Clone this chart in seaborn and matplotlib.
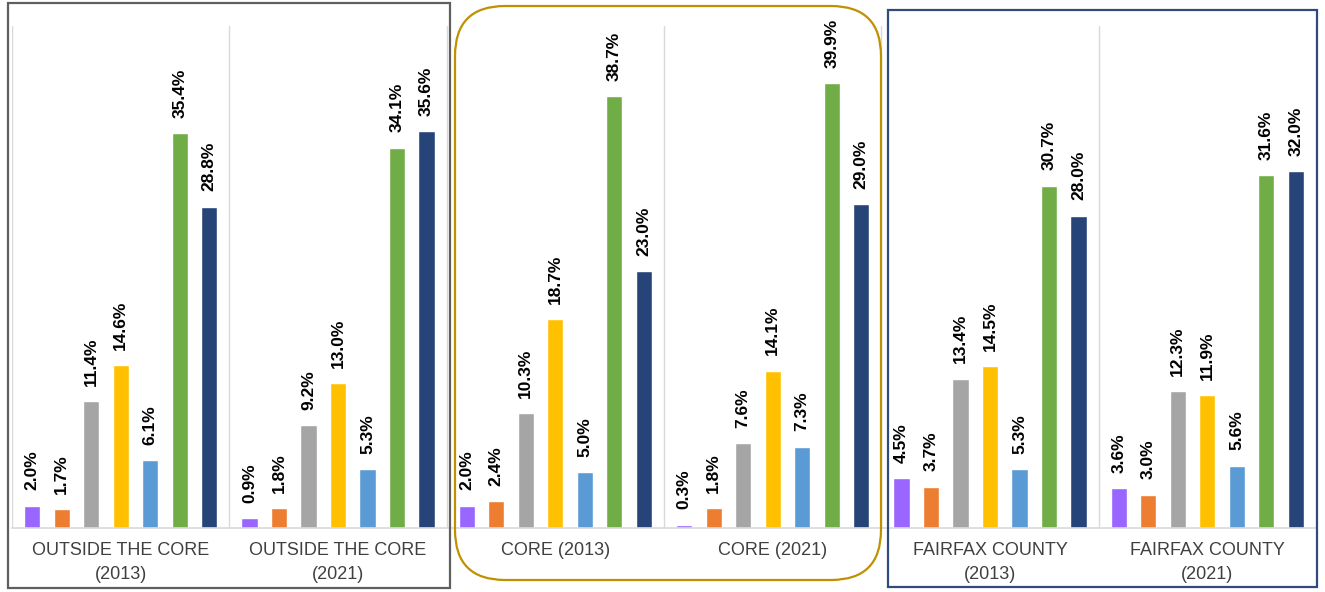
import matplotlib
matplotlib.use("Agg")
import matplotlib.pyplot as plt
from matplotlib.patches import Rectangle, FancyBboxPatch
from matplotlib.transforms import IdentityTransform
import pandas as pd
import seaborn as sns

# Groups along the x axis
groups = [
    "OUTSIDE THE CORE\n(2013)",
    "OUTSIDE THE CORE\n(2021)",
    "CORE (2013)",
    "CORE (2021)",
    "FAIRFAX COUNTY\n(2013)",
    "FAIRFAX COUNTY\n(2021)",
]
series = ["S1", "S2", "S3", "S4", "S5", "S6", "S7"]
colors = ["#9966FF", "#ED7D31", "#A5A5A5", "#FFC000", "#5B9BD5", "#70AD47", "#264478"]

# Shares (%) for each series within a group
s1 = [2.0, 0.9, 2.0, 0.3, 4.5, 3.6]
s2 = [1.7, 1.8, 2.4, 1.8, 3.7, 3.0]
s3 = [11.4, 9.2, 10.3, 7.6, 13.4, 12.3]
s4 = [14.6, 13.0, 18.7, 14.1, 14.5, 11.9]
s5 = [6.1, 5.3, 5.0, 7.3, 5.3, 5.6]
s6 = [35.4, 34.1, 38.7, 39.9, 30.7, 31.6]
s7 = [28.8, 35.6, 23.0, 29.0, 28.0, 32.0]
values = [s1, s2, s3, s4, s5, s6, s7]

rows = []
for name, vals in zip(series, values):
    for g, v in zip(groups, vals):
        rows.append({"group": g, "series": name, "value": v})
df = pd.DataFrame(rows)

sns.set_theme(style="white")
plt.rcParams["font.family"] = ["Liberation Sans", "DejaVu Sans"]

W, H = 1325, 592
fig = plt.figure(figsize=(W / 100, H / 100), dpi=100)
ax = fig.add_axes([12 / W, (H - 528) / H, (1316 - 12) / W, (528 - 26) / H])

sns.barplot(data=df, x="group", y="value", hue="series", order=groups,
            hue_order=series, palette=colors, width=0.95, gap=0.45,
            legend=False, saturation=1, ax=ax)

for cont, vals in zip(ax.containers, values):
    ax.bar_label(cont, labels=[f"{v:.1f}%" for v in vals], rotation=90,
                 padding=11, fontsize=12.5, fontweight="bold", color="black")

ax.set_xlim(-0.5, len(groups) - 0.5)
ax.set_ylim(0, 45)
ax.set_xlabel("")
ax.set_ylabel("")
ax.set_yticks([])
for sp in ["top", "right", "left"]:
    ax.spines[sp].set_visible(False)
ax.spines["bottom"].set_color("#D9D9D9")
ax.spines["bottom"].set_linewidth(1.2)
for x in [i - 0.5 for i in range(len(groups) + 1)]:
    ax.axvline(x, color="#D9D9D9", lw=1.0, zorder=0)

ax.tick_params(axis="x", length=0, pad=10, labelsize=13, colors="#404040")
for lab in ax.get_xticklabels():
    lab.set_linespacing(1.55)

# Panel frames, in pixel coordinates (origin bottom-left)
ident = IdentityTransform()
fig.patches.append(Rectangle((8, H - 588), 442, 585, fill=False,
                             edgecolor="#5F5F5F", lw=1.6, transform=ident))
fig.patches.append(FancyBboxPatch((455, H - 580), 426, 574,
                                  boxstyle="round,pad=0,rounding_size=50",
                                  fill=False, edgecolor="#BF9000", lw=1.6,
                                  transform=ident))
fig.patches.append(Rectangle((888, H - 587), 429, 577, fill=False,
                             edgecolor="#2F4B7C", lw=1.6, transform=ident))

fig.savefig("out.png", dpi=100)
